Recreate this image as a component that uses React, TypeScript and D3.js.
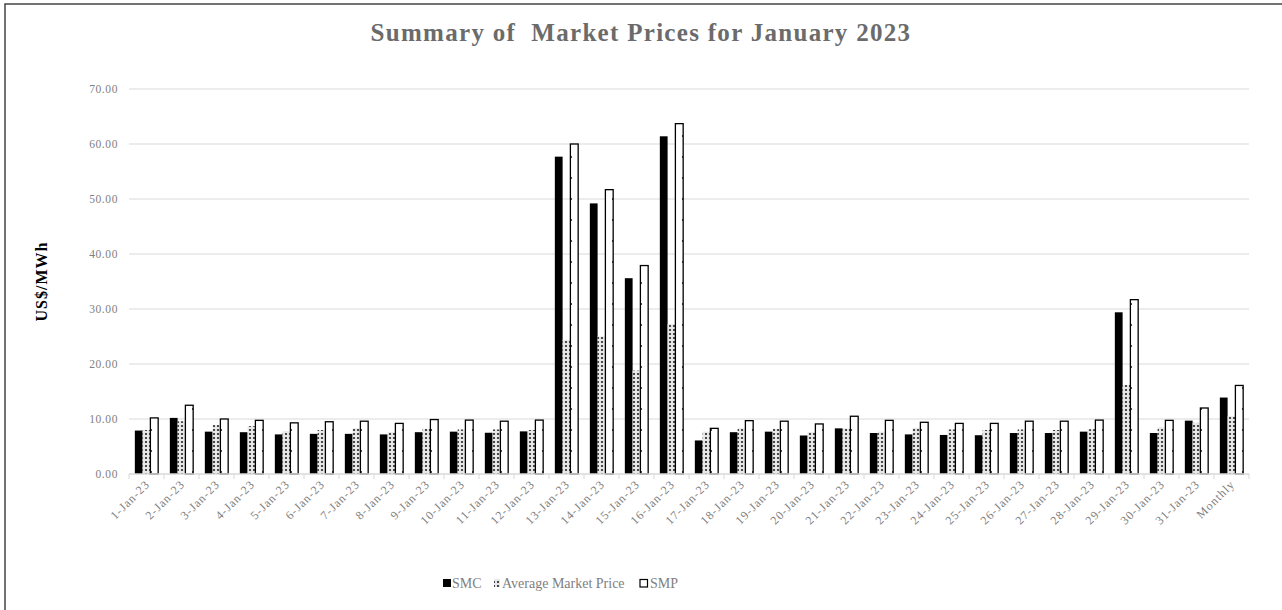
import React from "react";
import * as d3 from "d3";

const categories = [
  "1-Jan-23","2-Jan-23","3-Jan-23","4-Jan-23","5-Jan-23","6-Jan-23","7-Jan-23","8-Jan-23",
  "9-Jan-23","10-Jan-23","11-Jan-23","12-Jan-23","13-Jan-23","14-Jan-23","15-Jan-23","16-Jan-23",
  "17-Jan-23","18-Jan-23","19-Jan-23","20-Jan-23","21-Jan-23","22-Jan-23","23-Jan-23","24-Jan-23",
  "25-Jan-23","26-Jan-23","27-Jan-23","28-Jan-23","29-Jan-23","30-Jan-23","31-Jan-23","Monthly",
];
const smc = [7.9,10.2,7.7,7.6,7.2,7.3,7.3,7.2,7.6,7.7,7.5,7.75,57.7,49.2,35.6,61.4,6.1,7.6,7.7,7.0,8.3,7.45,7.2,7.1,7.05,7.45,7.45,7.7,29.4,7.45,9.7,13.9];
const avg = [8.0,9.6,8.9,8.7,7.8,8.0,8.3,7.6,8.2,8.1,8.1,8.0,24.4,25.0,18.8,27.3,7.7,8.3,8.2,7.6,8.3,7.7,8.4,8.1,8.0,8.1,8.0,8.15,16.2,8.5,9.3,10.5];
const smp = [10.2,12.5,10.0,9.75,9.3,9.5,9.6,9.2,9.9,9.8,9.6,9.8,60.0,51.7,37.9,63.7,8.3,9.7,9.6,9.1,10.5,9.75,9.4,9.2,9.2,9.6,9.6,9.8,31.7,9.75,12.0,16.1];
const seriesNames = ["SMC", "Average Market Price", "SMP"];
const yTicks = [0, 10, 20, 30, 40, 50, 60, 70];
const title = "Summary of  Market Prices for January 2023";
const yTitle = "US$/MWh";

const W = 1282, H = 610;
const left = 129, right = 1249, top = 89, bottom = 474;
const serif = "'Liberation Serif', 'DejaVu Serif', serif";

export default function App() {
  const x = d3.scaleBand<string>().domain(categories).range([left, right]).padding(0);
  const bw = x.bandwidth();
  const gap = bw * 1.5 / 4.5;
  const xs = d3.scaleBand<string>().domain(seriesNames).range([gap / 2, bw - gap / 2]).padding(0);
  const y = d3.scaleLinear().domain([0, 70]).range([bottom, top]);
  const data = [smc, avg, smp];
  const fills = ["#000", "url(#avgPat)", "url(#smpPat)"];

  return (
    <svg width={W} height={H} style={{ position: "absolute", left: 0, top: 0, background: "#fff" }}>
      <defs>
        <pattern id="avgPat" patternUnits="userSpaceOnUse" width={4} height={4}>
          <rect width={4} height={4} fill="#e8e8e8" />
          <circle cx={2} cy={2} r={1.1} fill="#222" />
        </pattern>
        <pattern id="smpPat" patternUnits="userSpaceOnUse" width={14} height={21}>
          <rect width={14} height={21} fill="#fff" />
          <circle cx={11} cy={10} r={1.1} fill="#222" />
        </pattern>
      </defs>
      <rect x={5} y={4} width={W + 10} height={H + 10} fill="none" stroke="#444" strokeWidth={1.5} />
      <text x={641} y={41} textAnchor="middle" fontFamily={serif} fontWeight="bold" fontSize={25}
        letterSpacing={1.3} fill="#6b6b6b" style={{ whiteSpace: "pre" }}>
        {title}
      </text>
      {yTicks.map((t) => (
        <g key={t}>
          {t > 0 && <line x1={left} x2={right} y1={y(t)} y2={y(t)} stroke="#d9d9d9" strokeWidth={1} />}
          <text x={118} y={y(t)} dy="0.35em" textAnchor="end" fontFamily={serif} fontSize={11.5}
            letterSpacing={0.6} fill="#808080">
            {t.toFixed(2)}
          </text>
        </g>
      ))}
      <text transform={`translate(47,${(top + bottom) / 2}) rotate(-90)`} textAnchor="middle"
        fontFamily={serif} fontWeight="bold" fontSize={16} letterSpacing={1} fill="#000">{yTitle}</text>
      {categories.map((c, i) => (
        <g key={c}>
          {data.map((vals, s) => {
            const bx = (x(c) as number) + (xs(seriesNames[s]) as number);
            const v = vals[i];
            return (
              <rect key={s} x={bx} y={y(v)} width={xs.bandwidth()} height={bottom - y(v)}
                fill={fills[s]} stroke={s === 2 ? "#000" : "none"} strokeWidth={s === 2 ? 1.3 : 0} />
            );
          })}
        </g>
      ))}
      <line x1={left} x2={right} y1={bottom} y2={bottom} stroke="#d9d9d9" strokeWidth={1.5} />
      {categories.map((c, i) => (
        <line key={"t" + i} x1={x(c) as number} x2={x(c) as number} y1={bottom} y2={bottom + 5} stroke="#d9d9d9" strokeWidth={1} />
      ))}
      <line x1={right} x2={right} y1={bottom} y2={bottom + 5} stroke="#d9d9d9" strokeWidth={1} />
      {categories.map((c) => {
        const cx = (x(c) as number) + bw / 2;
        return (
          <text key={"l" + c} transform={`translate(${cx + 4},${bottom + 11}) rotate(-45)`} textAnchor="end"
            fontFamily={serif} fontSize={12} letterSpacing={1} fill="#808080">{c}</text>
        );
      })}
      <g fontFamily={serif} fontSize={14} fill="#808080">
        <rect x={443} y={579} width={8} height={8} fill="#000" />
        <text x={452} y={588}>SMC</text>
        <rect x={494} y={579} width={6} height={8} fill="url(#avgPat)" />
        <text x={502} y={588}>Average Market Price</text>
        <rect x={640} y={579.5} width={7.5} height={7.5} fill="#fff" stroke="#000" strokeWidth={1.2} />
        <text x={650} y={588}>SMP</text>
      </g>
    </svg>
  );
}
